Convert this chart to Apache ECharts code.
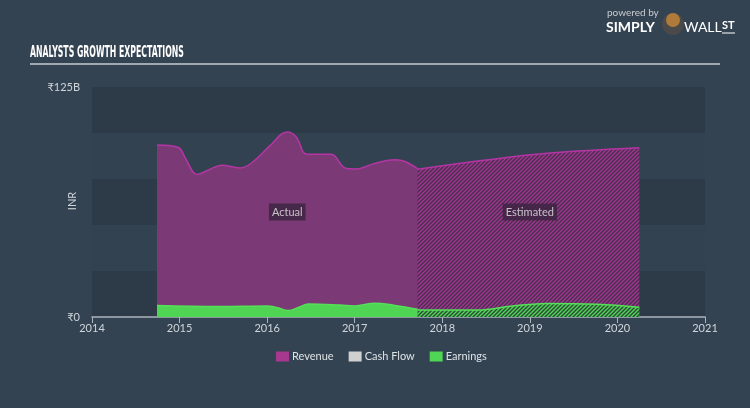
<!DOCTYPE html>
<html><head><meta charset="utf-8">
<script src="https://cdn.jsdelivr.net/npm/echarts@6/dist/echarts.min.js"></script>
<style>html,body{margin:0;padding:0;background:#344352;}#c{width:750px;height:408px;}</style>
</head><body><div id="c"></div>
<script>
// ---- data (decimal years, values in ₹ billions) ----
var revenueActual = [
  [2014.742, 93.5],[2014.982, 92.3],[2015.07, 86],[2015.20, 77.5],[2015.336, 80],[2015.48, 82.5],
  [2015.69, 81],[2015.83, 84],[2016.03, 93],[2016.23, 100.5],[2016.33, 98],[2016.455, 88.5],
  [2016.73, 88.5],[2016.89, 81],[2017.01, 80.5],[2017.23, 83.5],[2017.46, 85.5],[2017.574, 84.5],[2017.72, 80.5]
];
var revenueEstimated = [[2017.72, 80.3],[2018.5, 85.3],[2019.2, 89],[2020.25, 92]];
var earningsActual = [
  [2014.742, 6.3],[2015.46, 5.7],[2016.0, 6.0],[2016.12, 5],[2016.24, 3.5],[2016.37, 5.5],[2016.47, 7],
  [2016.83, 6.5],[2017.0, 6],[2017.23, 7.5],[2017.46, 6.3],[2017.72, 4.2]
];
var earningsEstimated = [[2017.72, 3.8],[2018.4, 3.8],[2018.8, 6],[2019.2, 7.4],[2019.77, 6.9],[2020.25, 5.3]];
var cashFlow = [];
var yearTicks = [2014, 2015, 2016, 2017, 2018, 2019, 2020, 2021];
var periodLabels = [[2016.23, 57, 'Actual'], [2019.0, 57, 'Estimated']];

function hatch(bg, fg) {
  var c = document.createElement('canvas');
  c.width = 4; c.height = 4;
  var g = c.getContext('2d');
  g.fillStyle = bg; g.fillRect(0, 0, 4, 4);
  g.strokeStyle = fg; g.lineWidth = 1.4;
  g.beginPath();
  g.moveTo(0, 4); g.lineTo(4, 0);
  g.moveTo(-1, 1); g.lineTo(1, -1);
  g.moveTo(3, 5); g.lineTo(5, 3);
  g.stroke();
  return c;
}

var chart = echarts.init(document.getElementById('c'));
var txt = '#cfd5da';
chart.setOption({
  backgroundColor: '#344352',
  animation: false,
  graphic: [
    { type: 'text', x: 30, y: 45, scaleX: 0.54,
      style: { text: 'ANALYSTS GROWTH EXPECTATIONS', fill: '#ffffff', font: 'bold 16px "DejaVu Sans Condensed"' } },
    { type: 'line', shape: { x1: 30, y1: 64, x2: 720, y2: 64 }, style: { stroke: '#c4cad0', lineWidth: 1.5 } },
    { type: 'text', x: 72, y: 201, rotation: Math.PI / 2,
      style: { text: 'INR', fill: txt, font: '11px Lato', align: 'center', verticalAlign: 'middle' } },
    { type: 'text', left: 607, top: 8, style: { text: 'powered by', fill: '#c8ccd0', font: '10px Lato' } },
    { type: 'text', left: 606, top: 20, style: { text: 'SIMPLY', fill: '#ffffff', font: 'bold 14px Lato' } },
    { type: 'circle', shape: { cx: 673, cy: 24, r: 11 }, style: { fill: '#4a4a4a' } },
    { type: 'circle', shape: { cx: 673, cy: 20, r: 7 }, style: { fill: '#b07a3a' } },
    { type: 'text', left: 684, top: 20, style: { text: 'WALL', fill: '#ffffff', font: '14px Lato' } },
    { type: 'text', left: 722, top: 20, style: { text: 'ST', fill: '#ffffff', font: 'bold 11px Lato' } },
    { type: 'line', shape: { x1: 722, y1: 33, x2: 735, y2: 33 }, style: { stroke: '#ffffff', lineWidth: 1 } }
  ],
  legend: {
    data: ['Revenue', 'Cash Flow', 'Earnings'],
    left: 276, top: 351, padding: 0, icon: 'rect', itemWidth: 13, itemHeight: 10, itemGap: 15,
    textStyle: { color: '#dde2e6', fontSize: 11, fontFamily: 'Lato', padding: [0, 0, 0, -2] }
  },
  grid: { left: 92, right: 45, top: 87, bottom: 91 },
  xAxis: {
    type: 'value', min: 2014, max: 2021, interval: 1,
    axisLine: { lineStyle: { color: '#aab4bd', width: 1.5 } },
    axisTick: { length: 6, lineStyle: { color: '#aab4bd' } },
    axisLabel: { color: txt, fontSize: 11, fontFamily: 'Lato', margin: 6,
      formatter: function (v) { return yearTicks.indexOf(v) >= 0 ? String(v) : ''; } },
    splitLine: { show: false }
  },
  yAxis: {
    type: 'value', min: 0, max: 125, interval: 25,
    axisLine: { show: false }, axisTick: { show: false },
    axisLabel: { color: txt, fontSize: 11, fontFamily: 'Lato', margin: 12,
      formatter: function (v) { return v === 0 ? '₹0' : (v === 125 ? '₹125B' : ''); } },
    splitLine: { show: false },
    splitArea: { show: true, areaStyle: { color: ['#2d3a47', '#334250'] } }
  },
  series: [
    { name: 'Revenue', type: 'line', data: revenueActual, smooth: 0.4, showSymbol: false,
      itemStyle: { color: '#a6398f' }, lineStyle: { color: '#b535a4', width: 1.5 },
      areaStyle: { color: '#7b3a76', opacity: 1 } },
    { name: 'Revenue', type: 'line', data: revenueEstimated, smooth: 0.4, showSymbol: false,
      itemStyle: { color: '#a6398f' }, lineStyle: { color: '#b535a4', width: 1.5 },
      areaStyle: { color: { image: hatch('#47304f', '#a3348f'), repeat: 'repeat' }, opacity: 1 } },
    { name: 'Cash Flow', type: 'line', data: cashFlow, itemStyle: { color: '#d0d0d0' } },
    { name: 'Earnings', type: 'line', data: earningsActual, smooth: 0.4, showSymbol: false,
      itemStyle: { color: '#4fd655' }, lineStyle: { color: '#55e058', width: 1.5 },
      areaStyle: { color: '#50d454', opacity: 1 } },
    { name: 'Earnings', type: 'line', data: earningsEstimated, smooth: 0.4, showSymbol: false,
      itemStyle: { color: '#4fd655' }, lineStyle: { color: '#55e058', width: 1.5 },
      areaStyle: { color: { image: hatch('#2f4a38', '#4fd655'), repeat: 'repeat' }, opacity: 1 } },
    { name: 'labels', type: 'scatter', data: periodLabels, symbolSize: 1, silent: true, z: 10,
      itemStyle: { color: 'rgba(0,0,0,0)' },
      label: { show: true, position: 'inside', formatter: function (p) { return p.data[2]; },
        color: '#e6e6e6', fontSize: 11, fontFamily: 'Lato', backgroundColor: '#3a2440', padding: [3, 3] } }
  ]
});
</script></body></html>
